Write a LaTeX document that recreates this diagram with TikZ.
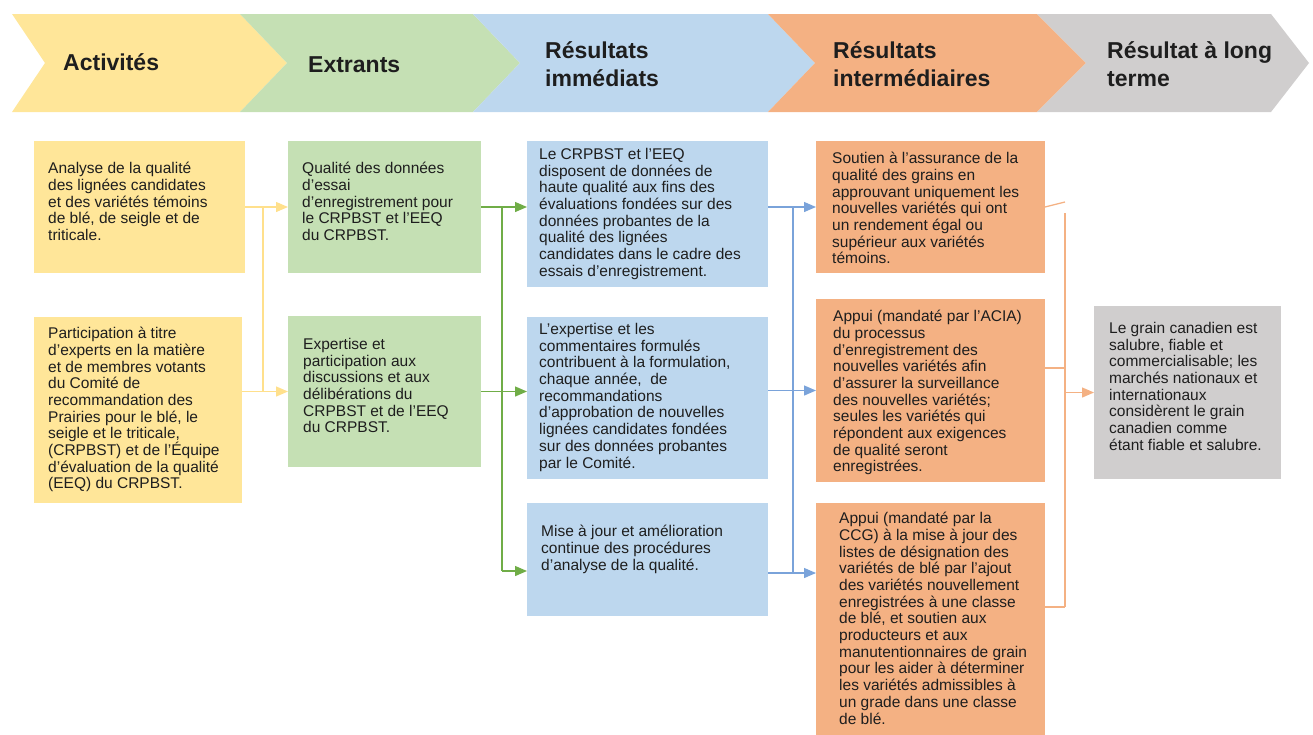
\documentclass[tikz,border=0pt]{standalone}
\usepackage{fontspec}
\setmainfont{Liberation Sans}
\usetikzlibrary{calc}
\usetikzlibrary{arrows.meta}

\definecolor{actfill}{HTML}{FFE699}
\definecolor{extfill}{HTML}{C5E0B4}
\definecolor{resfill}{HTML}{BDD7EE}
\definecolor{intfill}{HTML}{F4B183}
\definecolor{ltfill}{HTML}{D0CECE}
\definecolor{actline}{HTML}{FFE08C}
\definecolor{extline}{HTML}{70AD47}
\definecolor{resline}{HTML}{7AA3DA}
\definecolor{intline}{HTML}{F4B183}
\definecolor{inktext}{HTML}{1E1E1E}

\tikzset{
  box/.style={anchor=north west, inner sep=0pt, outer sep=0pt},
  txt/.style={anchor=north west, align=left, inner sep=0pt, text=inktext,
    font=\fontsize{15.5}{16.7}\selectfont},
  head/.style={anchor=west, align=left, inner sep=0pt, text=inktext,
    font=\fontsize{23}{28}\selectfont\bfseries},
  link/.style={line width=1.3pt},
  tip/.style={-{Triangle[length=12pt,width=10pt]}}
}

\begin{document}
\begin{tikzpicture}[x=1pt,y=-1pt]
  \useasboundingbox (0,0) rectangle (1313,734);
  % bandeau
  \fill[actfill] (12,14) -- (240,14) -- (287,63) -- (240,112) -- (12,112) -- (45,63) -- cycle;
  \fill[extfill] (240,14) -- (473,14) -- (520,63) -- (473,112) -- (240,112) -- (287,63) -- cycle;
  \fill[resfill] (473,14) -- (768,14) -- (815,63) -- (768,112) -- (473,112) -- (520,63) -- cycle;
  \fill[intfill] (768,14) -- (1037,14) -- (1086,63) -- (1037,112) -- (768,112) -- (815,63) -- cycle;
  \fill[ltfill] (1037,14) -- (1271,14) -- (1309,63) -- (1271,112) -- (1037,112) -- (1086,63) -- cycle;
  \node[head] (hact) at (63,62) {Activités};
  \node[head] (hext) at (308,65) {Extrants};
  \node[head] (hres) at (545,64) {Résultats\\immédiats};
  \node[head] (hint) at (833,64) {Résultats\\intermédiaires};
  \node[head] (hlt) at (1107,64) {Résultat à long\\terme};

  % activités
  \node[box, fill=actfill, minimum width=211pt, minimum height=132pt] (act1) at (34,141) {};
  \node[txt] (act1txt) at ($(act1.north west)+(14,21)$)
    {Analyse de la qualité\\des lignées candidates\\et des variétés témoins\\de blé, de seigle et de\\triticale.};
  \node[box, fill=actfill, minimum width=208pt, minimum height=186pt] (act2) at (34,317) {};
  \node[txt] (act2txt) at ($(act2.north west)+(14,10)$)
    {Participation à titre\\d’experts en la matière\\et de membres votants\\du Comité de\\recommandation des\\Prairies pour le blé, le\\seigle et le triticale,\\(CRPBST) et de l’Équipe\\d’évaluation de la qualité\\(EEQ) du CRPBST.};

  % extrants
  \node[box, fill=extfill, minimum width=193pt, minimum height=132pt] (ext1) at (288,141) {};
  \node[txt] (ext1txt) at ($(ext1.north west)+(14,21)$)
    {Qualité des données\\d’essai\\d’enregistrement pour\\le CRPBST et l’EEQ\\du CRPBST.};
  \node[box, fill=extfill, minimum width=193pt, minimum height=151pt] (ext2) at (288,316) {};
  \node[txt] (ext2txt) at ($(ext2.north west)+(15,22)$)
    {Expertise et\\participation aux\\discussions et aux\\délibérations du\\CRPBST et de l’EEQ\\du CRPBST.};

  % résultats immédiats
  \node[box, fill=resfill, minimum width=241pt, minimum height=146pt] (res1) at (527,141) {};
  \node[txt] (res1txt) at ($(res1.north west)+(12,7)$)
    {Le CRPBST et l’EEQ\\disposent de données de\\haute qualité aux fins des\\évaluations fondées sur des\\données probantes de la\\qualité des lignées\\candidates dans le cadre des\\essais d’enregistrement.};
  \node[box, fill=resfill, minimum width=241pt, minimum height=162pt] (res2) at (527,317) {};
  \node[txt] (res2txt) at ($(res2.north west)+(12,6)$)
    {L’expertise et les\\commentaires formulés\\contribuent à la formulation,\\chaque année,~ de\\recommandations\\d’approbation de nouvelles\\lignées candidates fondées\\sur des données probantes\\par le Comité.};
  \node[box, fill=resfill, minimum width=241pt, minimum height=113pt] (res3) at (527,503) {};
  \node[txt] (res3txt) at ($(res3.north west)+(14,22)$)
    {Mise à jour et amélioration\\continue des procédures\\d’analyse de la qualité.};

  % résultats intermédiaires
  \node[box, fill=intfill, minimum width=229pt, minimum height=132pt] (int1) at (816,141) {};
  \node[txt] (int1txt) at ($(int1.north west)+(16,11)$)
    {Soutien à l'assurance de la\\qualité des grains en\\approuvant uniquement les\\nouvelles variétés qui ont\\un rendement égal ou\\supérieur aux variétés\\témoins.};
  \node[box, fill=intfill, minimum width=229pt, minimum height=183pt] (int2) at (816,299) {};
  \node[txt] (int2txt) at ($(int2.north west)+(17,11)$)
    {Appui (mandaté par l’ACIA)\\du processus\\d'enregistrement des\\nouvelles variétés afin\\d'assurer la surveillance\\des nouvelles variétés;\\seules les variétés qui\\répondent aux exigences\\de qualité seront\\enregistrées.};
  \node[box, fill=intfill, minimum width=229pt, minimum height=240pt] (int3) at (816,503) {};
  \node[txt] (int3txt) at ($(int3.north west)+(23,9)$)
    {Appui (mandaté par la\\CCG) à la mise à jour des\\listes de désignation des\\variétés de blé par l’ajout\\des variétés nouvellement\\enregistrées à une classe\\de blé, et soutien aux\\producteurs et aux\\manutentionnaires de grain\\pour les aider à déterminer\\les variétés admissibles à\\un grade dans une classe\\de blé.};

  % résultat à long terme
  \node[box, fill=ltfill, minimum width=187pt, minimum height=173pt] (lt) at (1094,306) {};
  \node[txt] (lttxt) at ($(lt.north west)+(15,16)$)
    {Le grain canadien est\\salubre, fiable et\\commercialisable; les\\marchés nationaux et\\internationaux\\considèrent le grain\\canadien comme\\étant fiable et salubre.};

  % liens activités -> extrants
  \coordinate (ybus) at (263,0);
  \draw[link, actline] (act1.east) -- (ybus |- act1.east) -- (ybus |- ext2.west);
  \draw[link, actline, tip] (ybus |- act1.east) -- (ext1.west);
  \draw[link, actline, tip] (act2.east |- ext2.west) -- (ext2.west);

  % liens extrants -> résultats immédiats
  \coordinate (gbus) at (502,0);
  \coordinate (r3in) at ($(res3.north west)+(0,68)$);
  \draw[link, extline] (ext1.east) -- (gbus |- ext1.east) -- (gbus |- r3in);
  \draw[link, extline, tip] (gbus |- ext1.east) -- (res1.west |- ext1.east);
  \draw[link, extline, tip] (ext2.east) -- (res2.west |- ext2.east);
  \draw[link, extline, tip] (gbus |- r3in) -- (r3in);

  % liens résultats immédiats -> intermédiaires
  \coordinate (bbus) at (793,0);
  \coordinate (i3in) at ($(int3.north west)+(0,70)$);
  \draw[link, resline] (res1.east |- int1.west) -- (bbus |- int1.west) -- (bbus |- i3in);
  \draw[link, resline, tip] (bbus |- int1.west) -- (int1.west);
  \draw[link, resline, tip] (res2.east |- int2.west) -- (int2.west);
  \draw[link, resline, tip] (res3.east |- i3in) -- (i3in);

  % liens intermédiaires -> long terme
  \coordinate (obus) at (1065,0);
  \coordinate (i2out) at ($(int2.north east)+(0,69)$);
  \coordinate (i3out) at ($(int3.north east)+(0,104)$);
  \draw[link, intline] (int1.east) -- ++(20,-5);
  \draw[link, intline] ($(obus)+(0,213)$) -- (obus |- i3out);
  \draw[link, intline] (i2out) -- (obus |- i2out);
  \draw[link, intline] (i3out) -- (obus |- i3out);
  \draw[link, intline, tip] (obus |- lt.west) -- (lt.west);
\end{tikzpicture}
\end{document}
